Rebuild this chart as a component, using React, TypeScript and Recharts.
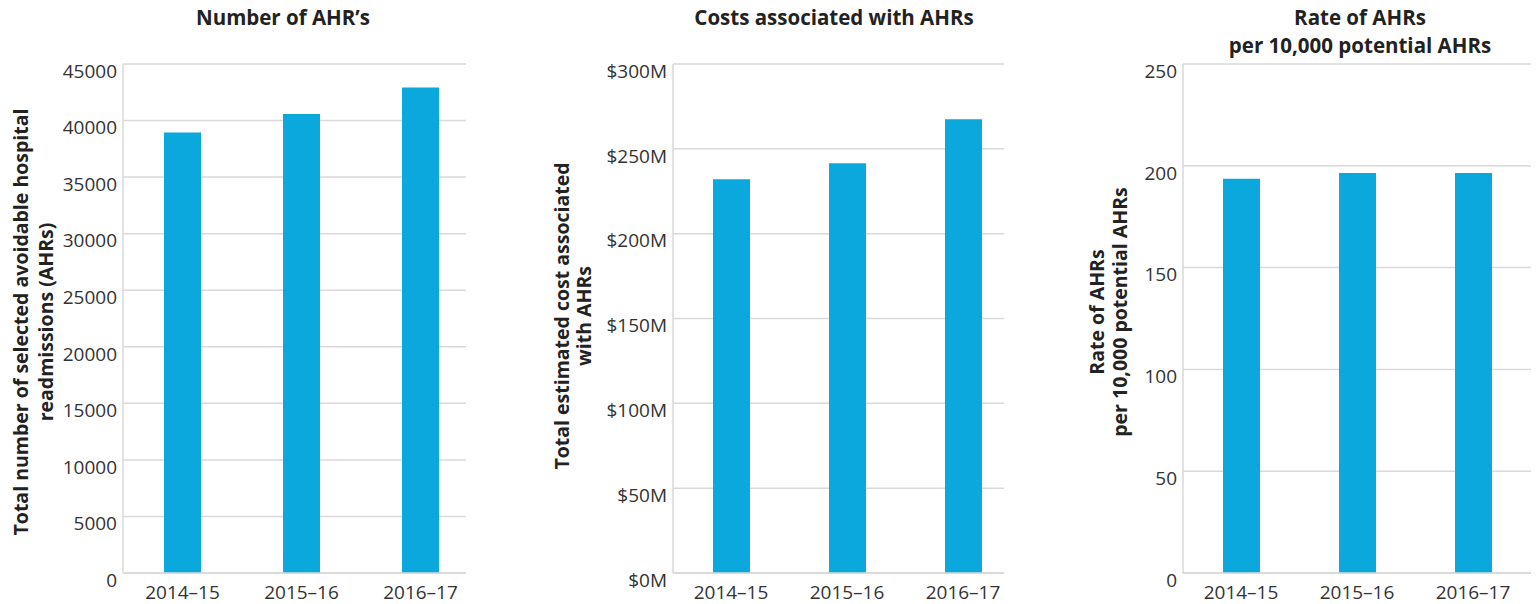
import { BarChart, Bar, XAxis, YAxis, CartesianGrid } from "recharts";

const years = ["2014–15", "2015–16", "2016–17"];
const ahrCounts = [38950, 40580, 42930];
const ahrCosts = [232, 241.5, 267.4];
const ahrRates = [193.7, 196.5, 196.5];

const countTicks = [0, 5000, 10000, 15000, 20000, 25000, 30000, 35000, 40000, 45000];
const costTicks = [0, 50, 100, 150, 200, 250, 300];
const rateTicks = [0, 50, 100, 150, 200, 250];

const BAR = "#0aa8dc";
const GRID = "#d9d9d9";
const TEXT = "#333";
const FONT = "'Open Sans', sans-serif";

type PanelProps = {
	values: number[];
	ticks: number[];
	fmt: (v: number) => string;
	left: number;
	width: number;
	yWidth: number;
	marginRight: number;
	padRight: number;
	title: string[];
	titleX: number;
	yLabel: string[];
	labelX: number[];
	labelY: number;
};

function Panel(p: PanelProps) {
	const data = years.map((y, i) => ({ year: y, value: p.values[i] }));
	const yTick = (props: any) => (
		<text x={props.x} y={props.y + 7} dy="0.355em" textAnchor="end" fill={TEXT} fontSize={19} fontFamily={FONT}>
			{p.fmt(props.payload.value)}
		</text>
	);
	const xTick = (props: any) => (
		<text x={props.x} y={props.y + 11} dy="0.355em" textAnchor="middle" fill={TEXT} fontSize={19} fontFamily={FONT}>
			{props.payload.value}
		</text>
	);
	const yLab = () => (
		<g>
			{p.yLabel.map((line, i) => (
				<text
					key={i}
					x={p.labelX[i] - p.left}
					y={p.labelY}
					transform={`rotate(-90 ${p.labelX[i] - p.left} ${p.labelY})`}
					textAnchor="middle"
					dy="0.355em"
					fill="#222"
					fontSize={19.5}
					fontWeight={700}
					fontFamily={FONT}
				>
					{line}
				</text>
			))}
		</g>
	);
	return (
		<div style={{ position: "absolute", left: p.left, top: 0, width: p.width, height: 604 }}>
			{p.title.map((t, i) => (
				<div
					key={i}
					style={{
						position: "absolute",
						left: p.titleX - p.left - 250,
						width: 500,
						top: 3 + i * 28,
						textAlign: "center",
						fontFamily: FONT,
						fontWeight: 700,
						fontSize: 20.5,
						color: "#222",
						lineHeight: "28px",
					}}
				>
					{t}
				</div>
			))}
			<BarChart width={p.width} height={604} data={data} margin={{ top: 64, right: p.marginRight, bottom: 1, left: 0 }}>
				<CartesianGrid vertical={false} stroke={GRID} strokeWidth={1.5} />
				<XAxis
					dataKey="year"
					height={30}
					tickLine={false}
					axisLine={{ stroke: GRID, strokeWidth: 1.5 }}
					tick={xTick}
					padding={{ left: 0, right: p.padRight }}
				/>
				<YAxis
					width={p.yWidth}
					domain={[p.ticks[0], p.ticks[p.ticks.length - 1]]}
					ticks={p.ticks}
					interval={0}
					tickLine={false}
					tickSize={0}
					tickMargin={6}
					axisLine={{ stroke: GRID, strokeWidth: 1.5 }}
					tick={yTick}
					label={{ content: yLab }}
				/>
				<Bar dataKey="value" fill={BAR} barSize={37} isAnimationActive={false} />
			</BarChart>
		</div>
	);
}

export default function App() {
	return (
		<div style={{ position: "absolute", left: 0, top: 0, width: 1537, height: 604, background: "#fff", overflow: "hidden" }}>
			<Panel
				values={ahrCounts}
				ticks={countTicks}
				fmt={(v) => String(v)}
				left={0}
				width={520}
				yWidth={123}
				marginRight={54}
				padRight={-14}
				title={["Number of AHR’s"]}
				titleX={283}
				yLabel={["Total number of selected avoidable hospital", "readmissions (AHRs)"]}
				labelX={[21, 46]}
				labelY={322}
			/>
			<Panel
				values={ahrCosts}
				ticks={costTicks}
				fmt={(v) => `$${v}M`}
				left={520}
				width={500}
				yWidth={153}
				marginRight={16}
				padRight={-17}
				title={["Costs associated with AHRs"]}
				titleX={834}
				yLabel={["Total estimated cost associated", "with AHRs"]}
				labelX={[562, 584]}
				labelY={316}
			/>
			<Panel
				values={ahrRates}
				ticks={rateTicks}
				fmt={(v) => String(v)}
				left={1020}
				width={517}
				yWidth={163}
				marginRight={6}
				padRight={0}
				title={["Rate of AHRs", "per 10,000 potential AHRs"]}
				titleX={1360}
				yLabel={["Rate of AHRs", "per 10,000 potential AHRs"]}
				labelX={[1097, 1120]}
				labelY={312}
			/>
		</div>
	);
}
